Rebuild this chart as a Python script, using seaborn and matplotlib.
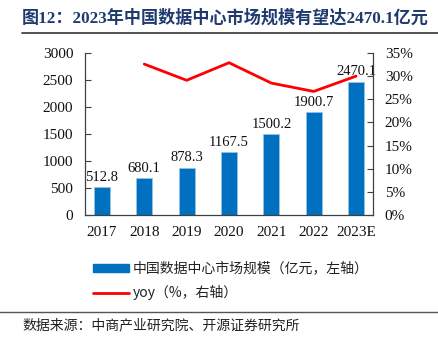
import matplotlib
matplotlib.use("Agg")
import matplotlib.pyplot as plt
import seaborn as sns
import pandas as pd
from matplotlib.ticker import FuncFormatter, MultipleLocator
from matplotlib.lines import Line2D
from matplotlib.patches import Patch

years = ["2017", "2018", "2019", "2020", "2021", "2022", "2023E"]
market = [512.8, 680.1, 878.3, 1167.5, 1500.2, 1900.7, 2470.1]
yoy_years = ["2018", "2019", "2020", "2021", "2022", "2023E"]
yoy = [32.6, 29.1, 32.9, 28.5, 26.7, 30.0]

title = "图12：2023年中国数据中心市场规模有望达2470.1亿元"
bar_label = "中国数据中心市场规模（亿元，左轴）"
line_label = "yoy（%，右轴）"
source = "数据来源：中商产业研究院、开源证券研究所"

sns.set_style("white")
serif = ["Liberation Serif", "Noto Sans CJK SC", "DejaVu Sans"]
cjk = ["Noto Sans CJK SC", "Liberation Serif", "DejaVu Sans"]
plt.rcParams["font.family"] = serif

BLUE = "#0070C0"
RED = "#FF0000"

fig = plt.figure(figsize=(4.38, 3.45), dpi=100)
ax = fig.add_axes([85/438, 1-215/345, 288/438, 162/345])

df = pd.DataFrame({"year": years, "market": market})
sns.barplot(data=df, x="year", y="market", color=BLUE, width=0.38,
            saturation=1, ax=ax, edgecolor="#9DC3E6", linewidth=0.5)
ax.set_xlim(-0.4, len(years) - 0.6)
ax.set_ylim(0, 3000)
ax.yaxis.set_major_locator(MultipleLocator(500))
ax.set_xlabel("")
ax.set_ylabel("")
for i, v in enumerate(market):
    ax.text(i, v + 60, f"{v:.1f}", ha="center", va="bottom", fontsize=10.5,
            family=serif, color="#111111")

ax2 = ax.twinx()
ldf = pd.DataFrame({"x": [years.index(y) for y in yoy_years], "yoy": yoy})
sns.lineplot(data=ldf, x="x", y="yoy", color=RED, linewidth=2, ax=ax2)
ax2.set_ylim(0, 35)
ax2.yaxis.set_major_locator(MultipleLocator(5))
ax2.yaxis.set_major_formatter(FuncFormatter(lambda v, p: f"{v:.0f}%"))
ax2.set_ylabel("")
ax2.set_xlabel("")
ax.set_xlim(-0.4, len(years) - 0.6)

for a in (ax, ax2):
    for s in a.spines.values():
        s.set_visible(False)
    a.tick_params(labelsize=11, colors="#111111")
ax.spines["left"].set_visible(True)
ax.spines["bottom"].set_visible(True)
ax2.spines["right"].set_visible(True)
for s in (ax.spines["left"], ax.spines["bottom"], ax2.spines["right"]):
    s.set_color("#404040")
    s.set_linewidth(0.9)
ax.tick_params(axis="y", direction="in", length=4, width=0.8, color="#404040", pad=8.5)
ax.tick_params(axis="x", length=0, pad=8)
ax2.tick_params(axis="y", direction="in", length=4, width=0.8, color="#404040", pad=8.5)

# Legend
handles = [Patch(facecolor=BLUE, edgecolor=BLUE),
           Line2D([0], [0], color=RED, linewidth=2)]
leg = fig.legend(handles, [bar_label, line_label], loc="upper left",
                 bbox_to_anchor=(80/438, 1-249/345), frameon=False,
                 prop={"family": cjk, "size": 10}, handlelength=2.6,
                 handleheight=0.5, labelspacing=0.7, handletextpad=0.3)
for t in leg.get_texts():
    t.set_color("#222222")

# Title and rules
fig.text(22/438, 1-18/345, title, ha="left", va="center", fontsize=12.3,
         fontweight="bold", color="#1F3A6E", family=serif)
fig.add_artist(Line2D([22/438, 1], [1-33/345, 1-33/345], color="#333333", linewidth=1.2))
fig.add_artist(Line2D([0, 1], [1-312/345, 1-312/345], color="#555555", linewidth=1))
fig.text(22/438, 1-325/345, source, ha="left", va="center", fontsize=10,
         color="#222222", family=cjk)

fig.savefig("out.png", dpi=100)
